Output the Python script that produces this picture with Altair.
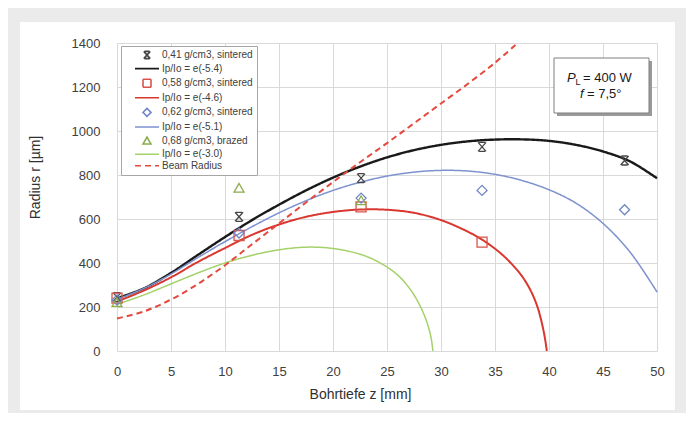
import altair as alt
import pandas as pd

# ---------------- data ----------------
SERIES = [
    "0,41 g/cm3, sintered",
    "Ip/Io = e(-5.4)",
    "0,58 g/cm3, sintered",
    "Ip/Io = e(-4.6)",
    "0,62 g/cm3, sintered",
    "Ip/Io = e(-5.1)",
    "0,68 g/cm3, brazed",
    "Ip/Io = e(-3.0)",
    "Beam Radius",
]

Z_TICKS = [0, 5, 10, 15, 20, 25, 30, 35, 40, 45, 50]
R_TICKS = [0, 200, 400, 600, 800, 1000, 1200, 1400]

# fitted curves
fit_054_z = [0, 2.5, 5, 7.5, 10, 12.5, 15, 17.5, 20, 22.5, 25, 27.5, 30, 32.5, 35, 37.5, 40, 42.5, 45, 47.5, 50]
fit_054_r = [240, 285, 355, 437, 518, 595, 665, 730, 788, 838, 880, 913, 937, 953, 961, 962, 955, 937, 907, 862, 785]

fit_046_z = [0, 2.5, 5, 7.5, 10, 12.5, 15, 17.5, 20, 22.5, 25, 27.5, 30, 32.5, 34, 35.5, 36.5, 37.5, 38.3, 38.9, 39.3, 39.6, 39.8]
fit_046_r = [225, 275, 335, 405, 468, 528, 575, 610, 632, 643, 642, 628, 595, 542, 500, 445, 398, 340, 275, 205, 135, 65, 0]

fit_051_z = [0, 2.5, 5, 7.5, 10, 12.5, 15, 17.5, 20, 22.5, 25, 27.5, 30, 32.5, 35, 37.5, 40, 42.5, 45, 47.5, 50]
fit_051_r = [235, 285, 350, 425, 497, 565, 628, 683, 730, 767, 795, 813, 821, 818, 803, 775, 733, 672, 580, 450, 268]

fit_030_z = [0, 2.5, 5, 7.5, 10, 12.5, 15, 17.5, 20, 22.5, 24, 25.5, 26.5, 27.5, 28.3, 28.8, 29.1, 29.25]
fit_030_r = [212, 255, 305, 355, 400, 435, 460, 472, 466, 440, 410, 365, 320, 255, 180, 115, 55, 0]

beam_z = [0, 2.5, 5, 7.5, 10, 12.5, 15, 17.5, 20, 22.5, 25, 27.5, 30, 32.5, 35, 37.1]
beam_r = [148, 180, 234, 305, 390, 485, 580, 675, 768, 858, 945, 1035, 1125, 1215, 1310, 1400]

# measurements
meas_041_z = [0, 11.3, 22.6, 33.8, 47.0]
meas_041_r = [245, 610, 786, 928, 866]
meas_058_z = [0, 11.3, 22.6, 33.8]
meas_058_r = [240, 525, 655, 495]
meas_062_z = [0, 11.3, 22.6, 33.8, 47.0]
meas_062_r = [232, 536, 695, 730, 642]
meas_068_z = [0, 11.3, 22.6]
meas_068_r = [222, 742, 685]

line_rows = []
for name, zs, rs in [
    (SERIES[1], fit_054_z, fit_054_r),
    (SERIES[3], fit_046_z, fit_046_r),
    (SERIES[5], fit_051_z, fit_051_r),
    (SERIES[7], fit_030_z, fit_030_r),
    (SERIES[8], beam_z, beam_r),
]:
    for z, r in zip(zs, rs):
        line_rows.append({"series": name, "z": z, "r": r})
lines_df = pd.DataFrame(line_rows)

pt_rows = []
for name, zs, rs in [
    (SERIES[0], meas_041_z, meas_041_r),
    (SERIES[2], meas_058_z, meas_058_r),
    (SERIES[4], meas_062_z, meas_062_r),
    (SERIES[6], meas_068_z, meas_068_r),
]:
    for z, r in zip(zs, rs):
        pt_rows.append({"series": name, "z": z, "r": r})
points_df = pd.DataFrame(pt_rows)

# ---------------- styles ----------------
FONT = "Liberation Sans"
X_PATH = "M-0.8,-0.9L0.8,0.9M-0.8,0.9L0.8,-0.9M-0.6,-0.9L0.6,-0.9M-0.6,0.9L0.6,0.9"
LINE_PATH = "M-3,0L3,0"

COLORS = ["#454545", "#1a1a1a", "#d9534a", "#d9372f", "#6f86c6",
          "#7d92cf", "#8cad4e", "#a5d16a", "#e5483f"]
SHAPES = [X_PATH, LINE_PATH, "square", LINE_PATH, "diamond",
          LINE_PATH, "triangle-up", LINE_PATH, LINE_PATH]
DASHES = [[1, 0], [1, 0], [1, 0], [1, 0], [1, 0], [1, 0], [1, 0], [1, 0], [6, 4]]

LEG = alt.Legend(
    orient="none", legendX=4, legendY=3, title=None,
    fillColor="white", strokeColor="#a6a6a6", padding=4,
    symbolSize=64, symbolStrokeWidth=1.6, symbolOffset=17,
    labelFontSize=10, labelFont=FONT, labelColor="#404040",
    labelOffset=10, rowPadding=1.6,
)

x_axis = alt.Axis(values=Z_TICKS, title="Bohrtiefe z [mm]", grid=True, gridColor="#d9d9d9",
                  domain=False, ticks=False, labelFontSize=13, labelFont=FONT,
                  labelColor="#404040", labelPadding=14, labelFlush=False,
                  titleFont=FONT, titleFontSize=14, titleFontWeight="normal",
                  titleColor="#303030", titleX=243, titleY=43, titleBaseline="middle",
                  titleAlign="center")
y_axis = alt.Axis(values=R_TICKS, title="Radius r [µm]", grid=True, gridColor="#d9d9d9",
                  domain=False, ticks=False, labelFontSize=13, labelFont=FONT, format="d",
                  labelColor="#404040", labelPadding=17, labelFlush=False,
                  titleFont=FONT, titleFontSize=14, titleFontWeight="normal",
                  titleColor="#303030", titleX=-82, titleY=134, titleBaseline="middle",
                  titleAlign="center")

X = alt.X("z:Q", scale=alt.Scale(domain=[0, 50], nice=False), axis=x_axis)
Y = alt.Y("r:Q", scale=alt.Scale(domain=[0, 1400], nice=False), axis=y_axis)
color = alt.Color("series:N", scale=alt.Scale(domain=SERIES, range=COLORS), legend=LEG)
shape = alt.Shape("series:N", scale=alt.Scale(domain=SERIES, range=SHAPES), legend=LEG)
dash = alt.StrokeDash("series:N", scale=alt.Scale(domain=SERIES, range=DASHES), legend=LEG)

width_rule = (
    alt.when(alt.datum.series == SERIES[1]).then(alt.value(2.4))
    .when(alt.datum.series == SERIES[3]).then(alt.value(2.0))
    .when(alt.datum.series == SERIES[8]).then(alt.value(2.0))
    .otherwise(alt.value(1.5))
)

lines = alt.Chart(lines_df).mark_line(interpolate="catmull-rom").encode(
    x=X, y=Y, color=color, strokeDash=dash, strokeWidth=width_rule
)
points = alt.Chart(points_df).mark_point(filled=False, size=100, strokeWidth=1.3, opacity=1).encode(
    x=X, y=Y, color=color, shape=shape
)

one = pd.DataFrame({"k": [0]})
base = alt.Chart(one)

def rect(x1, x2, y1, y2, fill, **kw):
    return base.mark_rect(fill=fill, **kw).encode(
        x=alt.value(x1), x2=alt.value(x2), y=alt.value(y1), y2=alt.value(y2))

frame = alt.layer(
    rect(-109, -97, -35, 370, "#ebebeb"),
    rect(558, 569, -35, 370, "#ebebeb"),
    rect(-97, 558, -35, -21, "#ebebeb"),
    rect(-97, 558, 367, 370, "#ebebeb"),
)

box_shadow = rect(440, 535, 18, 73, "#9a9a9a")
box = rect(437, 532, 15, 70, "white", stroke="#7f7f7f", strokeWidth=1)

def txt(s, x, y, size=13, style="normal", align="left"):
    return base.mark_text(text=s, font=FONT, fontSize=size, fontStyle=style, align=align,
                          baseline="middle", color="#1a1a1a").encode(
        x=alt.value(x), y=alt.value(y))

annot = alt.layer(
    txt("P", 450, 35, style="italic"),
    txt("L", 458.5, 39, size=9),
    txt("= 400 W", 466, 35),
    txt("f", 463, 51, style="italic"),
    txt("= 7,5°", 470, 51),
)

chart = alt.layer(frame, lines, points, box_shadow, box, annot).properties(
    width=540, height=308,
    autosize=alt.AutoSizeParams(type="none"),
    padding={"left": 109, "top": 35, "right": 29, "bottom": 62},
    background="white",
).configure_view(stroke=None)

chart.save("out.html", embed_options={"renderer": "svg", "actions": False})
